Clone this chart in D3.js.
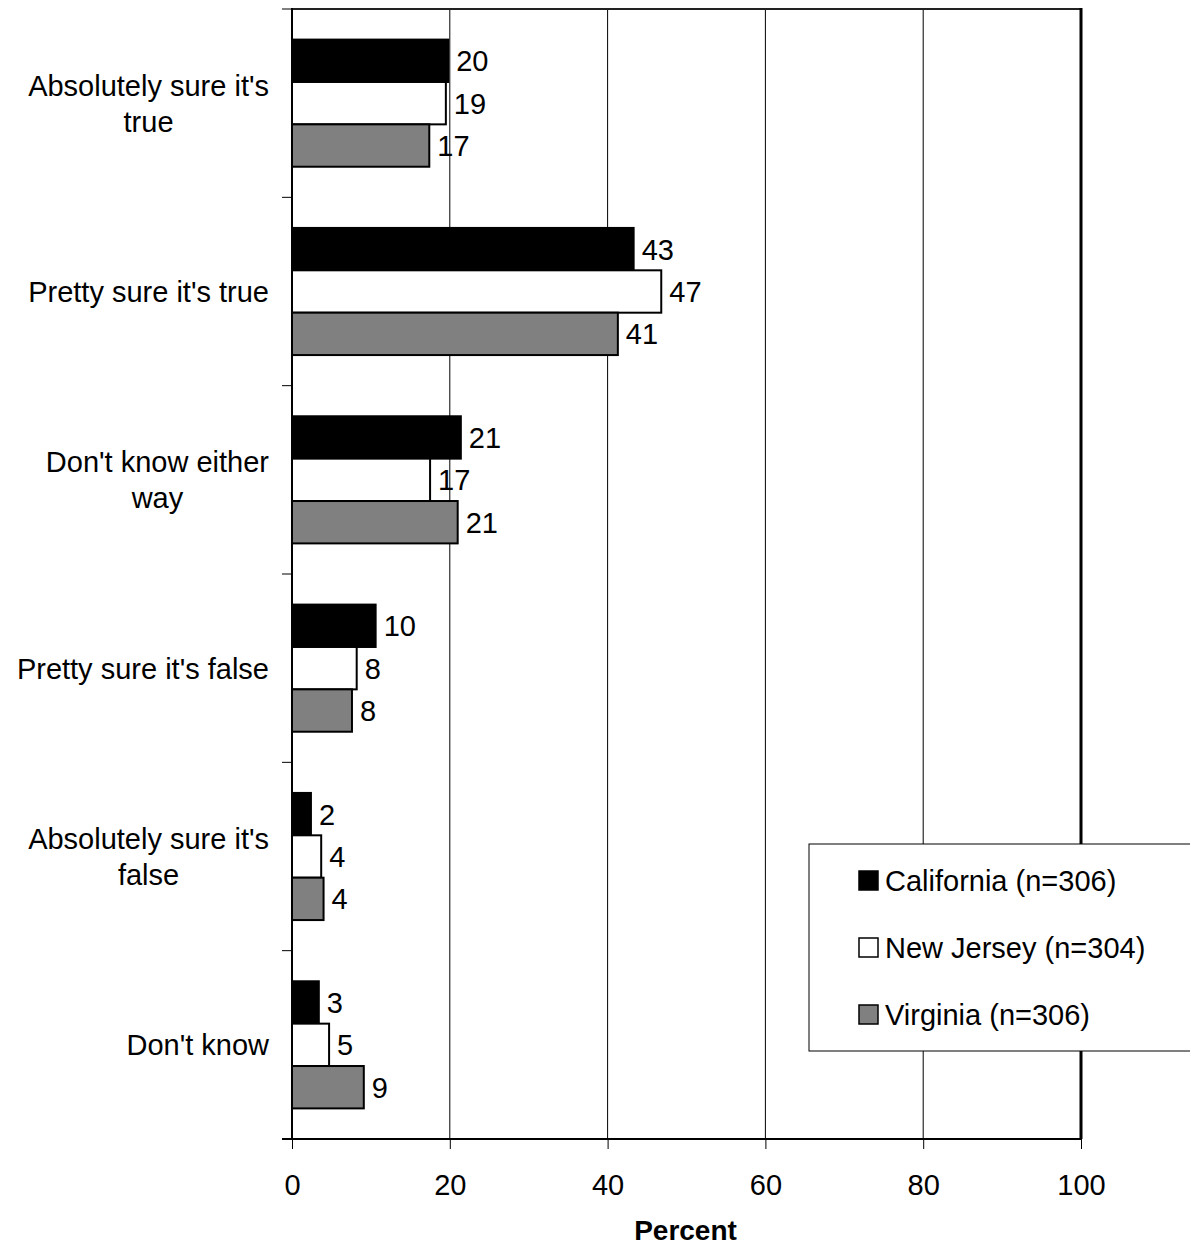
<!DOCTYPE html>
<html><head><meta charset="utf-8">
<script src="https://cdn.jsdelivr.net/npm/d3@7"></script>
<style>body{margin:0;background:#fff}svg{display:block;font-family:"Liberation Sans",Arial,sans-serif}</style>
</head><body><svg id="c" width="1190" height="1247"></svg>
<script>
const categories = [["Absolutely sure it's","true"],["Pretty sure it's true"],["Don't know either","way"],["Pretty sure it's false"],["Absolutely sure it's","false"],["Don't know"]];
const seriesNames = ["California (n=306)","New Jersey (n=304)","Virginia (n=306)"];
const seriesColors = ["#000000","#ffffff","#808080"];
const california = [19.8, 43.3, 21.4, 10.6, 2.4, 3.4];
const newJersey = [19.5, 46.8, 17.5, 8.2, 3.7, 4.7];
const virginia = [17.4, 41.3, 21.0, 7.6, 4.0, 9.1];
const valueLabels = [[20,43,21,10,2,3],[19,47,17,8,4,5],[17,41,21,8,4,9]];
const xTicks = [0,20,40,60,80,100];

const FS = 29;
const series = [california, newJersey, virginia];
const svg = d3.select("#c");
const L = 292, R = 1081, T = 9, B = 1139;
const x = d3.scaleLinear().domain([0,100]).range([L,R]);
const y = d3.scaleBand().domain(d3.range(categories.length)).range([T,B]).paddingInner(0.325).paddingOuter(0.1625);
const ys = d3.scaleBand().domain(d3.range(3)).range([0,y.bandwidth()]);

// gridlines
svg.append("g").selectAll("line").data(xTicks.filter(d=>d>0&&d<100)).join("line")
  .attr("x1",d=>x(d)).attr("x2",d=>x(d)).attr("y1",T).attr("y2",B)
  .attr("stroke","#000").attr("stroke-width",1);
// top border
svg.append("line").attr("x1",L).attr("x2",R).attr("y1",T).attr("y2",T).attr("stroke","#222").attr("stroke-width",2);
// right border
svg.append("line").attr("x1",R).attr("x2",R).attr("y1",T-1).attr("y2",B).attr("stroke","#000").attr("stroke-width",3);

// bars
series.forEach((vals,si)=>{
  const g = svg.append("g");
  g.selectAll("rect").data(vals).join("rect")
    .attr("x",x(0)).attr("y",(d,i)=>y(i)+ys(si))
    .attr("width",d=>x(d)-x(0)).attr("height",ys.bandwidth())
    .attr("fill",seriesColors[si]).attr("stroke","#000").attr("stroke-width",2);
  g.selectAll("text").data(vals).join("text")
    .attr("x",d=>x(d)+8).attr("y",(d,i)=>y(i)+ys(si)+ys.bandwidth()/2)
    .attr("dy","0.36em").attr("font-size",FS).attr("fill","#000")
    .text((d,i)=>valueLabels[si][i]);
});

// left axis
const boundaries = d3.range(categories.length+1).map(i=>T+(B-T)*i/categories.length);
svg.append("line").attr("x1",L).attr("x2",L).attr("y1",T-1).attr("y2",B+1).attr("stroke","#000").attr("stroke-width",2);
svg.append("g").selectAll("line").data(boundaries).join("line")
  .attr("x1",L-10).attr("x2",L).attr("y1",d=>d).attr("y2",d=>d).attr("stroke","#000").attr("stroke-width",1);
// category labels (centered block, right edge at 269)
categories.forEach((lines,i)=>{
  const cy = y(i)+y.bandwidth()/2;
  const t = svg.append("text").attr("text-anchor","middle").attr("font-size",FS).attr("fill","#000");
  const spans = lines.map((ln,k)=>t.append("tspan").attr("y",cy+(k-(lines.length-1)/2)*36).attr("dy","0.36em").text(ln));
  const w = d3.max(spans, s=>s.node().getComputedTextLength());
  spans.forEach(s=>s.attr("x",269 - w/2));
});

// bottom axis
const xAxis = d3.axisBottom(x).tickValues(xTicks).tickSize(10).tickPadding(25);
const gx = svg.append("g").attr("transform",`translate(0,${B})`).call(xAxis);
gx.select(".domain").remove();
gx.selectAll(".tick line").attr("stroke","#000");
gx.selectAll(".tick text").attr("font-size",FS).attr("font-family","'Liberation Sans',Arial,sans-serif").attr("fill","#000");
svg.append("line").attr("x1",L-10).attr("x2",R+1).attr("y1",B).attr("y2",B).attr("stroke","#000").attr("stroke-width",2);

svg.append("text").attr("x",(L+R)/2-1).attr("y",1240).attr("text-anchor","middle")
  .attr("font-size",FS-1).attr("font-weight","bold").text("Percent");

// legend
const lg = svg.append("g");
lg.append("rect").attr("x",809).attr("y",844).attr("width",390).attr("height",207)
  .attr("fill","#fff").attr("stroke","#000").attr("stroke-width",1);
seriesNames.forEach((n,i)=>{
  const cy = 881 + i*67;
  lg.append("rect").attr("x",859).attr("y",cy-10).attr("width",19).attr("height",19)
    .attr("fill",seriesColors[i]).attr("stroke","#000").attr("stroke-width",1.5);
  lg.append("text").attr("x",885).attr("y",cy).attr("dy","0.36em").attr("font-size",FS).text(n);
});
</script></body></html>
